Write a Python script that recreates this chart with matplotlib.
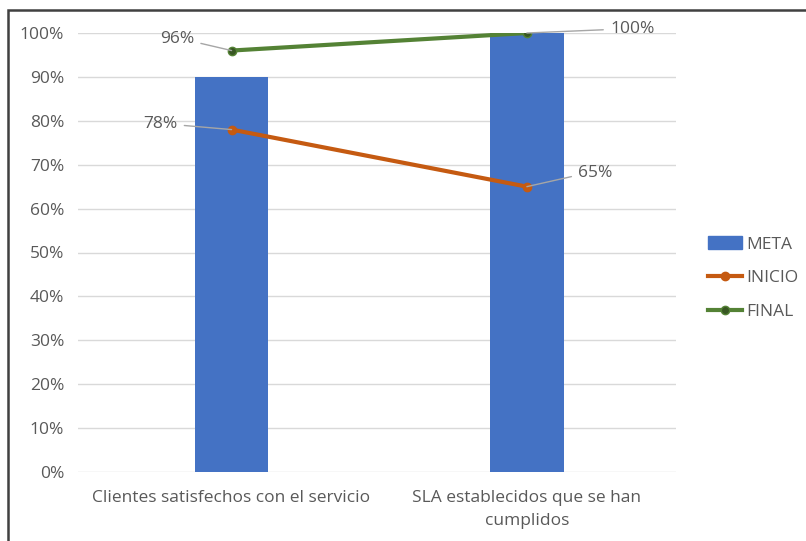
import matplotlib.pyplot as plt
from matplotlib.patches import Rectangle
from matplotlib.lines import Line2D
from matplotlib.patches import Patch

plt.rcParams['font.family'] = ['Open Sans', 'DejaVu Sans']

categorias = ['Clientes satisfechos con el servicio', 'SLA establecidos que se han\ncumplidos']
meta = [0.90, 1.00]
inicio = [0.78, 0.65]
final = [0.96, 1.00]

azul = '#4472C4'
naranja = '#C55A11'
verde = '#548235'
texto = '#595959'
fs = 12.5

fig = plt.figure(figsize=(8.06, 5.41), dpi=100)
ax = fig.add_axes([78 / 806, 1 - 472 / 541, (676 - 78) / 806, (472 - 33) / 541])

x = list(range(len(categorias)))
ax.bar(x, meta, width=0.25, color=azul, zorder=2)
ax.plot(x, inicio, color=naranja, lw=3, marker='o', ms=6, zorder=3)
ax.plot(x, final, color=verde, lw=3, marker='o', ms=6, mfc='#385723', mec=verde, zorder=3)

ax.set_ylim(0, 1)
ax.set_xlim(-0.52, 1.505)
ax.set_yticks([i / 10 for i in range(11)])
ax.set_yticklabels([f'{i * 10}%' for i in range(11)])
ax.set_xticks(x)
ax.set_xticklabels(categorias, linespacing=1.55)
ax.grid(axis='y', color='#D9D9D9', lw=1, zorder=0)
for s in ax.spines.values():
    s.set_visible(False)
ax.tick_params(length=0, colors=texto, labelsize=fs)
ax.tick_params(axis='x', pad=13)
ax.tick_params(axis='y', pad=10)

# etiquetas de datos con linea guia (tramo horizontal junto al texto)
def etiqueta(xi, yi, dx, dy, ha):
    ang = 0 if ha == 'right' else 180
    ax.annotate(f'{yi:.0%}', (xi, yi), xytext=(dx, dy), textcoords='offset points',
                ha=ha, va='center', color=texto, fontsize=fs,
                arrowprops=dict(arrowstyle='-', color='#A6A6A6', lw=1,
                                shrinkA=3, shrinkB=0,
                                connectionstyle=f'arc,angleA={ang},angleB=0,armA=7,armB=0,rad=0'),
                zorder=4)

etiqueta(0, final[0], -27, 8, 'right')
etiqueta(0, inicio[0], -39, 4, 'right')
etiqueta(1, final[1], 60, 3, 'left')
etiqueta(1, inicio[1], 37, 10, 'left')

handles = [Patch(color=azul, label='META'),
           Line2D([], [], color=naranja, lw=3, marker='o', ms=6, label='INICIO'),
           Line2D([], [], color=verde, lw=3, marker='o', ms=6, mfc='#385723', mec=verde, label='FINAL')]
fig.legend(handles=handles, loc='center left', bbox_to_anchor=(692 / 806, 1 - 278 / 541),
           frameon=False, fontsize=fs, labelcolor=texto, handlelength=2.0,
           handletextpad=0.2, labelspacing=1.0)

# marco del grafico
fig.patches.append(Rectangle((8 / 806, -0.1), 1.2, 1 - 10 / 541 + 0.1, transform=fig.transFigure,
                             fill=False, ec='#404040', lw=1.8))

fig.savefig('out.png', dpi=100)
